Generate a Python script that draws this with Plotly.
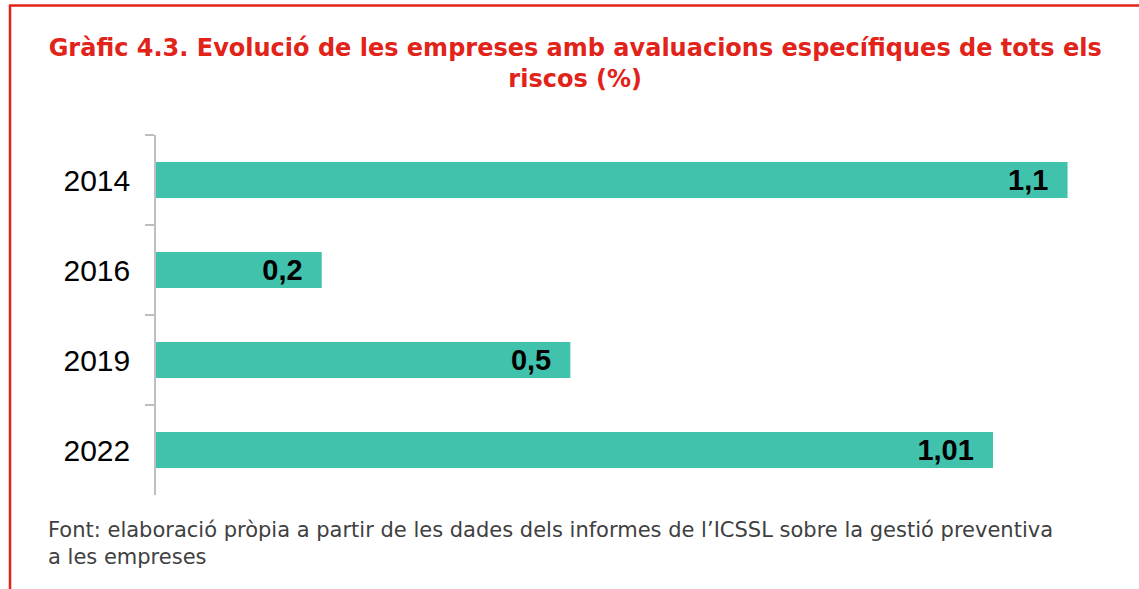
import plotly.graph_objects as go

years = ["2014", "2016", "2019", "2022"]
values = [1.1, 0.2, 0.5, 1.01]
labels = ["1,1", "0,2", "0,5", "1,01"]

title_text = "Gràfic 4.3. Evolució de les empreses amb avaluacions específiques de tots els<br>riscos (%)"
source_text = ("Font: elaboració pròpia a partir de les dades dels informes de l’ICSSL sobre la gestió preventiva"
               "<br>a les empreses")

W, H = 1139, 589
ML, MR, MT, MB = 156, 30, 135, 94
XMAX = 1.15

fig = go.Figure()
fig.add_trace(go.Bar(
    x=values, y=years, orientation="h",
    text=labels,
    texttemplate="<b>%{text}</b>\u00a0\u00a0",
    textposition="inside", insidetextanchor="end", constraintext="none",
    textfont=dict(family="Arial, Liberation Sans", size=29, color="#000000"),
    marker=dict(color="#41C2AD", line=dict(width=0)),
    hoverinfo="skip",
))

pw = W - ML - MR
ph = H - MT - MB
def px_x(p):
    return (p - ML) / pw
def px_y(p):
    return (H - MB - p) / ph

red = "#E2231A"
# frame lines (left and top)
fig.add_shape(type="line", xref="paper", yref="paper",
              x0=px_x(10), x1=px_x(10), y0=px_y(5), y1=px_y(600),
              line=dict(color=red, width=2.5))
fig.add_shape(type="line", xref="paper", yref="paper",
              x0=px_x(9), x1=px_x(1145), y0=px_y(5.5), y1=px_y(5.5),
              line=dict(color=red, width=2.5))

fig.add_annotation(xref="paper", yref="paper", x=px_x(46), y=px_y(516),
                   xanchor="left", yanchor="top", align="left", showarrow=False,
                   text=source_text,
                   font=dict(family="DejaVu Sans", size=21, color="#404040"))

fig.update_layout(
    width=W, height=H,
    margin=dict(l=ML, r=MR, t=MT, b=MB, autoexpand=False),
    paper_bgcolor="white", plot_bgcolor="white",
    showlegend=False,
    bargap=0.6,
    title=dict(text=title_text, xref="container", x=0.505, xanchor="center",
               yref="container", y=1 - 56 / H, yanchor="top",
               font=dict(family="DejaVu Sans", size=24, color=red, weight="bold")),
    xaxis=dict(range=[0, XMAX], visible=False, automargin=False),
    yaxis=dict(type="category", categoryorder="array", categoryarray=years,
               range=[len(years) - 0.5, -0.5], autorange=False, automargin=False,
               showline=True, linecolor="#BFBFBF", linewidth=1.5,
               ticks="outside", tickson="boundaries", ticklen=9,
               tickcolor="#BFBFBF", tickwidth=1.5,
               ticklabelstandoff=18,
               tickfont=dict(family="Arial, Liberation Sans", size=30, color="#000000"),
               showgrid=False, zeroline=False),
)

fig.write_html("out.html", config={"displayModeBar": False},
               post_script="document.body.style.margin='0px';")
